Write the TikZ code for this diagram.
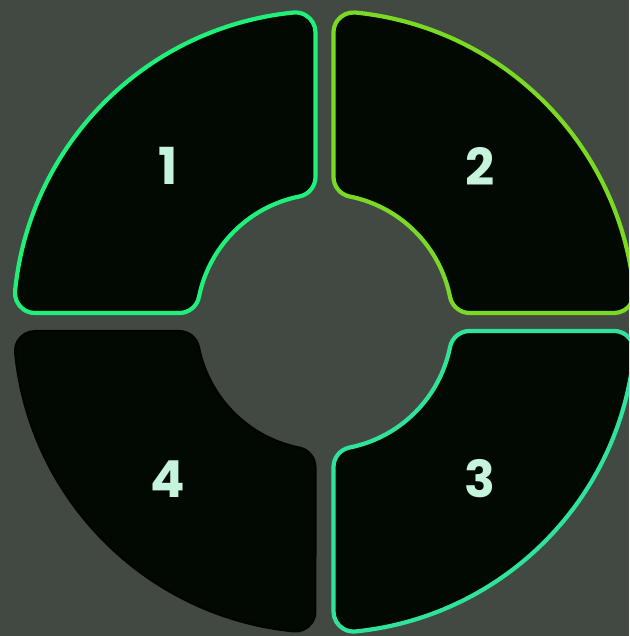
\documentclass[tikz,border=0pt]{standalone}
\usepackage{fontspec}
\setmainfont{Poppins}
\definecolor{bgc}{HTML}{424943}
\definecolor{segfill}{HTML}{020802}
\definecolor{segedge}{HTML}{010401}
\definecolor{cone}{HTML}{1FF07A}
\definecolor{ctwo}{HTML}{79D924}
\definecolor{cthree}{HTML}{30E39A}
\definecolor{labc}{HTML}{C6F3DC}
\def\Rout{311}
\def\Rin{128}
\def\gp{9}
\def\crad{20}
\pgfmathsetmacro\gc{\gp+\crad}
\pgfmathsetmacro\ay{100*sqrt(((\Rout-\crad)/100)^2-(\gc/100)^2)}
\pgfmathsetmacro\aang{90+atan(\gc/\ay)}
\pgfmathsetmacro\bang{270-\aang}
\pgfmathsetmacro\iy{100*sqrt(((\Rin+\crad)/100)^2-(\gc/100)^2)}
\pgfmathsetmacro\dang{90+atan(\gc/\iy)}
\pgfmathsetmacro\cang{270-\dang}
\pgfmathsetmacro\cangb{\cang+180}
\pgfmathsetmacro\dangb{\dang+180}
\newcommand{\segpath}{%
  (-\gp,\iy) -- (-\gp,\ay)
  arc[start angle=0,end angle=\aang,radius=\crad pt]
  arc[start angle=\aang,end angle=\bang,radius=\Rout pt]
  arc[start angle=\bang,end angle=270,radius=\crad pt]
  -- (-\iy,\gp)
  arc[start angle=270,end angle=\cangb,radius=\crad pt]
  arc[start angle=\cang,end angle=\dang,radius=\Rin pt]
  arc[start angle=\dangb,end angle=360,radius=\crad pt]
  -- cycle}
\tikzset{
  seg/.style={fill=segfill,line width=4.2pt,line join=round},
  lab/.style={text=labc,font=\fontsize{51}{60}\selectfont\bfseries,inner sep=0pt}
}
\begin{document}
\begin{tikzpicture}[x=1pt,y=1pt]
\fill[bgc] (0,0) rectangle (629,636);
\useasboundingbox (0,0) rectangle (629,636);
\clip (0,0) rectangle (629,636);
\begin{scope}[shift={(324.5,314)}]
  \draw[seg,draw=cone] \segpath;
  \begin{scope}[rotate=-90]
    \draw[seg,draw=ctwo] \segpath;
  \end{scope}
  \begin{scope}[rotate=-180]
    \draw[seg,draw=cthree] \segpath;
  \end{scope}
  \begin{scope}[rotate=-270]
    \draw[seg,draw=segedge,line width=2pt] \segpath;
  \end{scope}
\end{scope}
\node[lab] (l1) at (168,470) {1};
\node[lab] (l2) at (480,470) {2};
\node[lab] (l3) at (480,157) {3};
\node[lab] (l4) at (168,157) {4};
\end{tikzpicture}
\end{document}
